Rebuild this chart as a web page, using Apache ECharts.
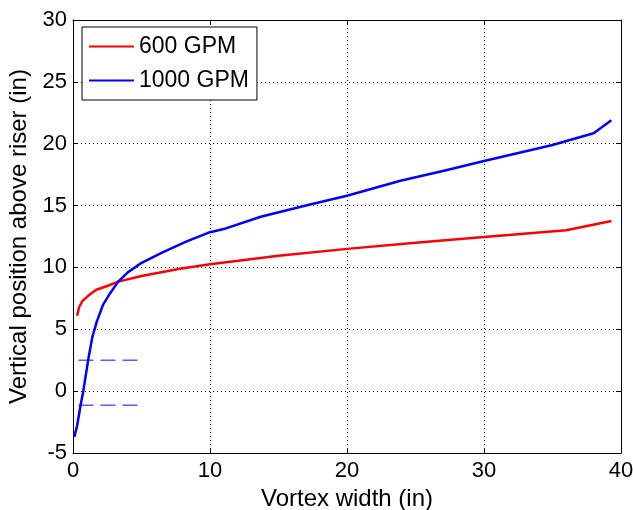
<!DOCTYPE html>
<html>
<head>
<meta charset="utf-8">
<script src="https://cdn.jsdelivr.net/npm/echarts@6/dist/echarts.min.js"></script>
<style>
  html, body { margin: 0; padding: 0; background: #fff; }
  #container { width: 633px; height: 510px; }
</style>
</head>
<body>
<div id="container"></div>
<script>
// 600 GPM curve
var x600 = [0.3, 0.45, 0.7, 1.2, 1.7, 2.5, 3.3, 5, 7.8, 10, 15, 20, 25, 30, 36, 39.3];
var y600 = [6.1, 6.8, 7.3, 7.8, 8.2, 8.5, 8.85, 9.3, 9.9, 10.25, 10.95, 11.5, 12.0, 12.45, 13.0, 13.75];

// 1000 GPM curve
var x1000 = [0.1, 0.3, 0.56, 0.75, 1.12, 1.4, 1.73, 2.2, 2.7, 3.3, 4, 4.9, 6.5, 8.3, 10, 11, 13.7, 17, 20, 23.9, 27, 30, 35, 38, 39.3];
var y1000 = [-3.7, -2.8, -1.1, 0, 2.6, 4.3, 5.6, 7.0, 7.9, 8.85, 9.6, 10.3, 11.2, 12.1, 12.85, 13.1, 14.1, 15.0, 15.8, 17.0, 17.8, 18.6, 19.9, 20.85, 21.9];

// two short dashed reference lines
var dashX = [0.4, 5];
var dashY = [2.5, -1.15];

var seriesNames = ['600 GPM', '1000 GPM'];
var xTicks = {min: 0, max: 40, interval: 10};
var yTicks = {min: -5, max: 30, interval: 5};

function pairs(xs, ys) {
    var out = [];
    for (var i = 0; i < xs.length; i++) {
        out.push([xs[i], ys[i]]);
    }
    return out;
}

var myChart = echarts.init(document.getElementById('container'));

var font = 'Liberation Sans, Arial, Helvetica, sans-serif';
var tickStyle = {show: true, inside: true, length: 5, lineStyle: {color: '#000', width: 1}};

var option = {
    animation: false,
    backgroundColor: '#fff',
    grid: {left: 73, right: 12, top: 20, bottom: 57, show: false, containLabel: false, outerBoundsMode: 'none'},
    legend: {
        data: seriesNames,
        orient: 'vertical',
        left: 82,
        top: 27,
        icon: 'rect',
        itemWidth: 45,
        itemHeight: 2,
        itemGap: 11,
        padding: [8, 8, 8, 7],
        borderColor: '#000',
        borderWidth: 1,
        backgroundColor: '#fff',
        textStyle: {fontFamily: font, fontSize: 23, color: '#000', lineHeight: 22}
    },
    xAxis: [
        {
            type: 'value',
            min: xTicks.min, max: xTicks.max, interval: xTicks.interval,
            position: 'bottom',
            name: 'Vortex width (in)',
            nameLocation: 'middle',
            nameGap: 30,
            nameTextStyle: {fontFamily: font, fontSize: 24, color: '#000'},
            axisLine: {show: true, onZero: false, lineStyle: {color: '#000', width: 1}},
            axisTick: tickStyle,
            axisLabel: {fontFamily: font, fontSize: 22, color: '#000', margin: 7},
            splitLine: {show: true, lineStyle: {color: '#000', width: 1, type: [1, 3]}}
        },
        {
            type: 'value',
            min: xTicks.min, max: xTicks.max, interval: xTicks.interval,
            position: 'top',
            axisLine: {show: true, onZero: false, lineStyle: {color: '#000', width: 1}},
            axisTick: tickStyle,
            axisLabel: {show: false},
            splitLine: {show: false}
        }
    ],
    yAxis: [
        {
            type: 'value',
            min: yTicks.min, max: yTicks.max, interval: yTicks.interval,
            position: 'left',
            name: 'Vertical position above riser (in)',
            nameLocation: 'middle',
            nameGap: 38,
            nameTextStyle: {fontFamily: font, fontSize: 24, color: '#000'},
            axisLine: {show: true, onZero: false, lineStyle: {color: '#000', width: 1}},
            axisTick: tickStyle,
            axisLabel: {fontFamily: font, fontSize: 22, color: '#000', margin: 6},
            splitLine: {show: true, lineStyle: {color: '#000', width: 1, type: [1, 3]}}
        },
        {
            type: 'value',
            min: yTicks.min, max: yTicks.max, interval: yTicks.interval,
            position: 'right',
            axisLine: {show: true, onZero: false, lineStyle: {color: '#000', width: 1}},
            axisTick: tickStyle,
            axisLabel: {show: false},
            splitLine: {show: false}
        }
    ],
    series: [
        {
            name: 'dash-upper',
            type: 'line',
            data: pairs(dashX, [dashY[0], dashY[0]]),
            showSymbol: false,
            silent: true,
            lineStyle: {color: '#5a5aff', width: 1.5, type: [15, 7]}
        },
        {
            name: 'dash-lower',
            type: 'line',
            data: pairs(dashX, [dashY[1], dashY[1]]),
            showSymbol: false,
            silent: true,
            lineStyle: {color: '#5a5aff', width: 1.5, type: [15, 7]}
        },
        {
            name: seriesNames[0],
            type: 'line',
            data: pairs(x600, y600),
            showSymbol: false,
            color: '#ff0000',
            lineStyle: {color: '#ff0000', width: 2.5}
        },
        {
            name: seriesNames[1],
            type: 'line',
            data: pairs(x1000, y1000),
            showSymbol: false,
            color: '#0000ff',
            lineStyle: {color: '#0000ff', width: 2.5}
        }
    ]
};

myChart.setOption(option);
</script>
</body>
</html>
